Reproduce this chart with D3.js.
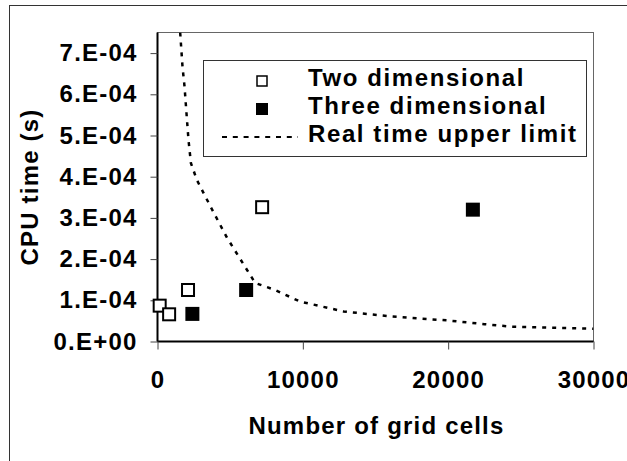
<!DOCTYPE html>
<html><head><meta charset="utf-8">
<script src="https://cdn.jsdelivr.net/npm/d3@7"></script>
<style>
html,body{margin:0;padding:0;background:#fff;overflow:hidden}
text{font-family:"Liberation Sans",Arial,sans-serif;font-weight:bold;fill:#000}
</style></head>
<body>
<svg id="c" width="627" height="461"></svg>
<script>
// ---- data ----
const xTickValues = [0, 10000, 20000, 30000];
const yTickValues = [0, 1e-4, 2e-4, 3e-4, 4e-4, 5e-4, 6e-4, 7e-4];
const yTickLabels = ["0.E+00","1.E-04","2.E-04","3.E-04","4.E-04","5.E-04","6.E-04","7.E-04"];
const twoDimX = [150, 800, 2100, 7200];
const twoDimY = [8.7e-5, 6.6e-5, 1.25e-4, 3.26e-4];
const threeDimX = [2400, 6100, 21700];
const threeDimY = [6.7e-5, 1.25e-4, 3.2e-4];
const limitX = [1560, 1720, 1860, 2020, 2130, 2300, 2710, 3700, 4780, 6720, 8100, 9800, 12800, 16000, 20000, 22500, 24400, 30000];
const limitY = [7.5e-4, 6.67e-4, 6.19e-4, 5.42e-4, 4.9e-4, 4.33e-4, 3.92e-4, 3.24e-4, 2.52e-4, 1.42e-4, 1.25e-4, 0.97e-4, 0.73e-4, 0.61e-4, 0.51e-4, 0.42e-4, 0.36e-4, 0.31e-4];
const legendLabels = ["Two dimensional", "Three dimensional", "Real time upper limit"];
const xTitle = "Number of grid cells";
const yTitle = "CPU time (s)";

// ---- layout ----
const svg = d3.select("#c");
const L = 157.5, R = 593.5, T = 32.5, B = 341.5;
const x = d3.scaleLinear().domain([0, 30000]).range([L, R]);
const y = d3.scaleLinear().domain([0, 7.5e-4]).range([B, T]);
const FS = 24, LS = "1.2px";

// outer border
svg.append("rect").attr("x", 9.5).attr("y", 5.5).attr("width", 640).attr("height", 480)
  .attr("fill", "none").attr("stroke", "#333").attr("stroke-width", 1);

// plot border (top/right)
svg.append("rect").attr("x", L).attr("y", T).attr("width", R - L).attr("height", B - T)
  .attr("fill", "none").attr("stroke", "#666").attr("stroke-width", 1);

// axes
const yAxis = d3.axisLeft(y).tickValues(yTickValues)
  .tickFormat((d, i) => yTickLabels[i]).tickSize(7).tickPadding(13);
const gy = svg.append("g").attr("transform", `translate(${L},0)`).call(yAxis);
const xAxis = d3.axisBottom(x).tickValues(xTickValues).tickFormat(d3.format("d"))
  .tickSize(8).tickPadding(21);
const gx = svg.append("g").attr("transform", `translate(0,${B})`).call(xAxis);
[gx, gy].forEach(g => {
  g.select(".domain").attr("stroke", "#000").attr("stroke-width", 2);
  g.selectAll(".tick line").attr("stroke", "#444").attr("stroke-width", 1);
  g.selectAll(".tick text").attr("font-size", FS).attr("letter-spacing", LS)
    .attr("font-family", "'Liberation Sans', Arial, sans-serif").attr("font-weight", "bold").attr("fill", "#000");
});
gy.select(".domain").attr("d", `M0,${B}V${T}`);
gx.select(".domain").attr("d", `M${L},0H${R}`);

// titles
svg.append("text").attr("x", (L + R) / 2 + 1).attr("y", 434).attr("text-anchor", "middle")
  .attr("font-size", FS).attr("letter-spacing", LS).text(xTitle);
svg.append("text").attr("transform", `translate(38,${(T + B) / 2}) rotate(-90)`)
  .attr("text-anchor", "middle").attr("font-size", FS).attr("letter-spacing", LS).text(yTitle);

// clip
svg.append("clipPath").attr("id", "pc").append("rect")
  .attr("x", L).attr("y", T).attr("width", R - L).attr("height", B - T);

// limit line
const limitData = limitX.map((v, i) => [v, limitY[i]]);
svg.append("path").datum(limitData).attr("clip-path", "url(#pc)")
  .attr("d", d3.line().x(d => x(d[0])).y(d => y(d[1])))
  .attr("fill", "none").attr("stroke", "#000").attr("stroke-width", 2.5)
  .attr("stroke-dasharray", "4,6");

// markers
const S = 12;
svg.append("g").selectAll("rect").data(twoDimX.map((v, i) => [v, twoDimY[i]])).join("rect")
  .attr("x", d => x(d[0]) - S / 2).attr("y", d => y(d[1]) - S / 2)
  .attr("width", S).attr("height", S).attr("fill", "#fff").attr("stroke", "#000").attr("stroke-width", 2);
svg.append("g").selectAll("rect").data(threeDimX.map((v, i) => [v, threeDimY[i]])).join("rect")
  .attr("x", d => x(d[0]) - (S + 2) / 2).attr("y", d => y(d[1]) - (S + 2) / 2)
  .attr("width", S + 2).attr("height", S + 2).attr("fill", "#000");

// legend
const lg = svg.append("g");
lg.append("rect").attr("x", 203.5).attr("y", 60.5).attr("width", 383).attr("height", 96)
  .attr("fill", "#fff").attr("stroke", "#333").attr("stroke-width", 1);
const rows = [86, 114, 142];
lg.append("rect").attr("x", 262 - 5).attr("y", 81 - 5).attr("width", 10).attr("height", 10)
  .attr("fill", "#fff").attr("stroke", "#000").attr("stroke-width", 1.5);
lg.append("rect").attr("x", 262 - 6).attr("y", 109 - 6).attr("width", 12).attr("height", 12)
  .attr("fill", "#000");
lg.append("line").attr("x1", 222).attr("x2", 298).attr("y1", 137).attr("y2", 137)
  .attr("stroke", "#000").attr("stroke-width", 2).attr("stroke-dasharray", "5,5.8");
legendLabels.forEach((t, i) => {
  lg.append("text").attr("x", 308).attr("y", rows[i]).attr("font-size", FS)
    .attr("letter-spacing", "1.6px").text(t);
});
</script>
</body></html>
